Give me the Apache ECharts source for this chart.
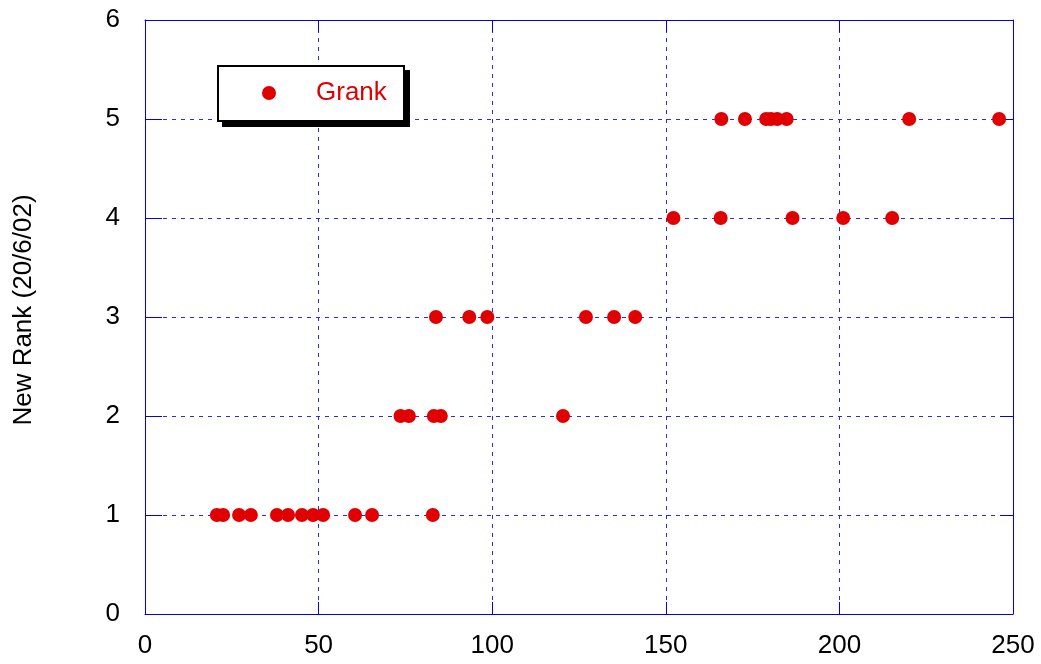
<!DOCTYPE html>
<html>
<head>
<meta charset="utf-8">
<script src="https://cdn.jsdelivr.net/npm/echarts@6/dist/echarts.min.js"></script>
<style>html,body{margin:0;padding:0;background:#fff}#c{width:1041px;height:664px}</style>
</head>
<body>
<div id="c"></div>
<script>
var seriesName = 'Grank';
var xValues = [20.7, 22.5, 27.1, 30.5, 38.0, 41.2, 45.2, 48.4, 51.3, 60.5, 65.4, 82.9,
               73.6, 76.0, 83.2, 85.2, 120.4,
               83.8, 93.4, 98.6, 127.0, 135.1, 141.2,
               152.2, 165.8, 186.5, 201.1, 215.2,
               166.0, 172.8, 178.9, 180.3, 182.1, 184.8, 220.1, 246.0];
var yValues = [1, 1, 1, 1, 1, 1, 1, 1, 1, 1, 1, 1,
               2, 2, 2, 2, 2,
               3, 3, 3, 3, 3, 3,
               4, 4, 4, 4, 4,
               5, 5, 5, 5, 5, 5, 5, 5];
var xTicks = [0, 50, 100, 150, 200, 250];
var yTicks = [0, 1, 2, 3, 4, 5, 6];
var yAxisTitle = 'New Rank (20/6/02)';

var points = xValues.map(function (x, i) { return [x, yValues[i]]; });
var font = 'Liberation Sans, Arial, sans-serif';
var blue = '#0000ee';
var gridBlue = '#2a2aee';
var chart = echarts.init(document.getElementById('c'));
var axisLine = { show: true, onZero: false, lineStyle: { color: blue, width: 1 } };
chart.setOption({
  animation: false,
  backgroundColor: '#ffffff',
  grid: { left: 145, right: 28, top: 20, bottom: 50, containLabel: false },
  graphic: [
    { type: 'rect', z: 10, left: 222, top: 70, shape: { width: 188, height: 57 }, style: { fill: '#000000' } },
    { type: 'rect', z: 11, left: 217, top: 65, shape: { width: 186, height: 55 }, style: { fill: '#ffffff', stroke: '#000000', lineWidth: 2 } }
  ],
  legend: {
    data: [seriesName],
    left: 217, top: 65, z: 20,
    orient: 'horizontal',
    icon: 'circle',
    itemWidth: 14, itemHeight: 14,
    padding: [15, 18, 14, 45],
    textStyle: { color: '#e00000', fontSize: 26, fontFamily: font, padding: [0, 0, 0, 35] }
  },
  xAxis: [
    {
      type: 'value', min: xTicks[0], max: xTicks[xTicks.length - 1], interval: 50,
      position: 'bottom',
      axisLine: axisLine,
      axisLabel: { color: '#000', fontSize: 26, fontFamily: font, margin: 19 },
      axisTick: { show: true, inside: true, length: 12, lineStyle: { color: blue } },
      splitLine: { show: true, lineStyle: { color: gridBlue, type: [4, 5], width: 1 } }
    },
    {
      type: 'value', min: xTicks[0], max: xTicks[xTicks.length - 1], interval: 50,
      position: 'top',
      axisLine: axisLine,
      axisLabel: { show: false },
      axisTick: { show: true, inside: true, length: 12, lineStyle: { color: blue } },
      splitLine: { show: false }
    }
  ],
  yAxis: [
    {
      type: 'value', min: yTicks[0], max: yTicks[yTicks.length - 1], interval: 1,
      position: 'left',
      name: yAxisTitle, nameLocation: 'middle', nameGap: 108, nameRotate: 90,
      nameTextStyle: { color: '#000', fontSize: 26, fontFamily: font, padding: [0, 0, 0, 14] },
      axisLine: axisLine,
      axisLabel: { color: '#000', fontSize: 26, fontFamily: font, margin: 25 },
      axisTick: { show: true, inside: true, length: 17, lineStyle: { color: blue } },
      splitLine: { show: true, lineStyle: { color: gridBlue, type: [4, 5], width: 1 } }
    },
    {
      type: 'value', min: yTicks[0], max: yTicks[yTicks.length - 1], interval: 1,
      position: 'right',
      axisLine: axisLine,
      axisLabel: { show: false },
      axisTick: { show: true, inside: true, length: 13, lineStyle: { color: blue } },
      splitLine: { show: false }
    }
  ],
  series: [{
    name: seriesName,
    type: 'scatter',
    xAxisIndex: 0, yAxisIndex: 0,
    symbol: 'circle',
    symbolSize: 14,
    itemStyle: { color: '#e00000', opacity: 1 },
    data: points
  }]
});
</script>
</body>
</html>
